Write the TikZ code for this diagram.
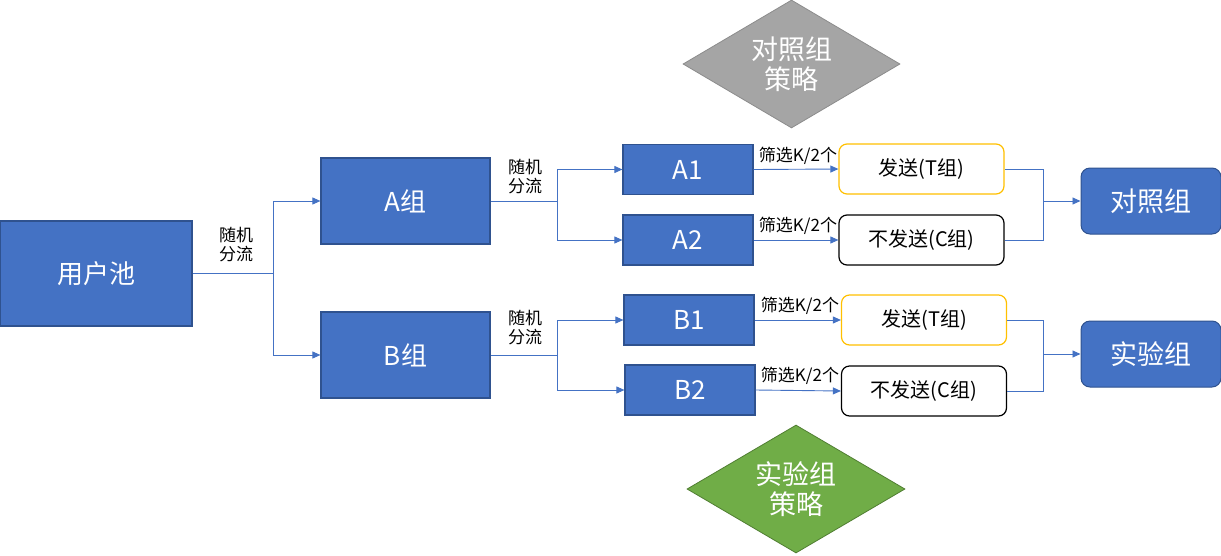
\documentclass[tikz,border=0pt]{standalone}
\usepackage{fontspec}
\setmainfont{Noto Sans CJK SC}
\usetikzlibrary{shapes.geometric,arrows.meta}
\definecolor{bfill}{HTML}{4472C4}
\definecolor{bdraw}{HTML}{2F528F}
\definecolor{lblue}{HTML}{4472C4}
\definecolor{orng}{HTML}{FFC000}
\definecolor{gfill}{HTML}{A5A5A5}
\definecolor{gdraw}{HTML}{8C8C8C}
\definecolor{grfill}{HTML}{70AD47}
\definecolor{grdraw}{HTML}{507E32}
\begin{document}
\begin{tikzpicture}[x=1pt,y=1pt,
  bluebox/.style={rectangle,fill=bfill,draw=bdraw,line width=1.2pt,text=white,font=\fontsize{26}{28}\selectfont,inner sep=0pt},
  sendbox/.style={rectangle,rounded corners=8pt,fill=white,line width=1.2pt,font=\fontsize{20}{22}\selectfont,inner sep=0pt,minimum width=165pt,minimum height=50pt},
  resbox/.style={rectangle,rounded corners=9pt,fill=bfill,draw=bdraw,line width=1pt,text=white,font=\fontsize{27}{29}\selectfont,inner sep=0pt,minimum width=140pt,minimum height=66pt},
  conn/.style={draw=lblue,line width=0.9pt},
  arr/.style={conn,-{Triangle[length=8pt,width=7pt]}},
  lab/.style={font=\fontsize{17}{19}\selectfont,align=center,inner sep=0pt},
  dia/.style={diamond,aspect=1.7,inner sep=0pt,text=white,font=\fontsize{27}{30}\selectfont,align=center,line width=0.8pt}
]
\useasboundingbox (0,0) rectangle (1221,-555);
% main boxes
\node[bluebox,minimum width=192pt,minimum height=105pt] (pool) at (96,-273.5) {用户池};
\node[bluebox,minimum width=169pt,minimum height=86pt] (A) at (405.5,-201) {A组};
\node[bluebox,minimum width=169pt,minimum height=86pt] (B) at (405.5,-355) {B组};
\node[bluebox,minimum width=130pt,minimum height=50pt] (A1) at (688,-169.5) {A1};
\node[bluebox,minimum width=130pt,minimum height=50pt] (A2) at (688,-240) {A2};
\node[bluebox,minimum width=130pt,minimum height=50pt] (B1) at (689,-320) {B1};
\node[bluebox,minimum width=130pt,minimum height=50pt] (B2) at (690,-390) {B2};
\node[sendbox,draw=orng] (AT) at (921.5,-169) {发送(T组)};
\node[sendbox,draw=black] (AC) at (921.5,-240) {不发送(C组)};
\node[sendbox,draw=orng] (BT) at (924,-320) {发送(T组)};
\node[sendbox,draw=black] (BC) at (924,-391) {不发送(C组)};
\node[resbox] (ctl) at (1151,-201) {对照组};
\node[resbox] (exp) at (1151,-354) {实验组};
\node[dia,fill=gfill,draw=gdraw,minimum width=217pt,minimum height=128pt] (dg) at (791.5,-64) {对照组\\策略};
\node[dia,fill=grfill,draw=grdraw,minimum width=218pt,minimum height=128pt] (dgr) at (796,-489) {实验组\\策略};
% junction coordinates
\coordinate (j0) at (273,-273.5);
\coordinate (jA) at (557,-201);
\coordinate (jB) at (557,-355);
\coordinate (jC) at (1043,-201);
\coordinate (jE) at (1043,-354);
% pool split
\draw[conn] (pool.east) -- (j0);
\draw[arr] (j0) |- (A.west);
\draw[arr] (j0) |- (B.west);
\node[lab] (l0) at (236,-245) {随机\\分流};
% A split
\draw[conn] (A.east) -- (jA);
\draw[arr] (jA) |- (A1.west);
\draw[arr] (jA) |- (A2.west);
\node[lab] (lA) at (525,-177) {随机\\分流};
% B split
\draw[conn] (B.east) -- (jB);
\draw[arr] (jB) |- (B1.west);
\draw[arr] (jB) |- (B2.west);
\node[lab] (lB) at (525,-328) {随机\\分流};
% filter arrows
\draw[arr] (A1.east) -- (AT.west);
\draw[arr] (A2.east) -- (AC.west);
\draw[arr] (B1.east) -- (BT.west);
\draw[arr] (B2.east) -- (BC.west);
\node[lab] (f1) at (798,-156) {筛选K/2个};
\node[lab] (f2) at (798,-226) {筛选K/2个};
\node[lab] (f3) at (800,-306) {筛选K/2个};
\node[lab] (f4) at (800,-376) {筛选K/2个};
% merge
\draw[conn] (AT.east) -| (jC);
\draw[conn] (AC.east) -| (jC);
\draw[arr] (jC) -- (ctl.west);
\draw[conn] (BT.east) -| (jE);
\draw[conn] (BC.east) -| (jE);
\draw[arr] (jE) -- (exp.west);
\end{tikzpicture}
\end{document}
